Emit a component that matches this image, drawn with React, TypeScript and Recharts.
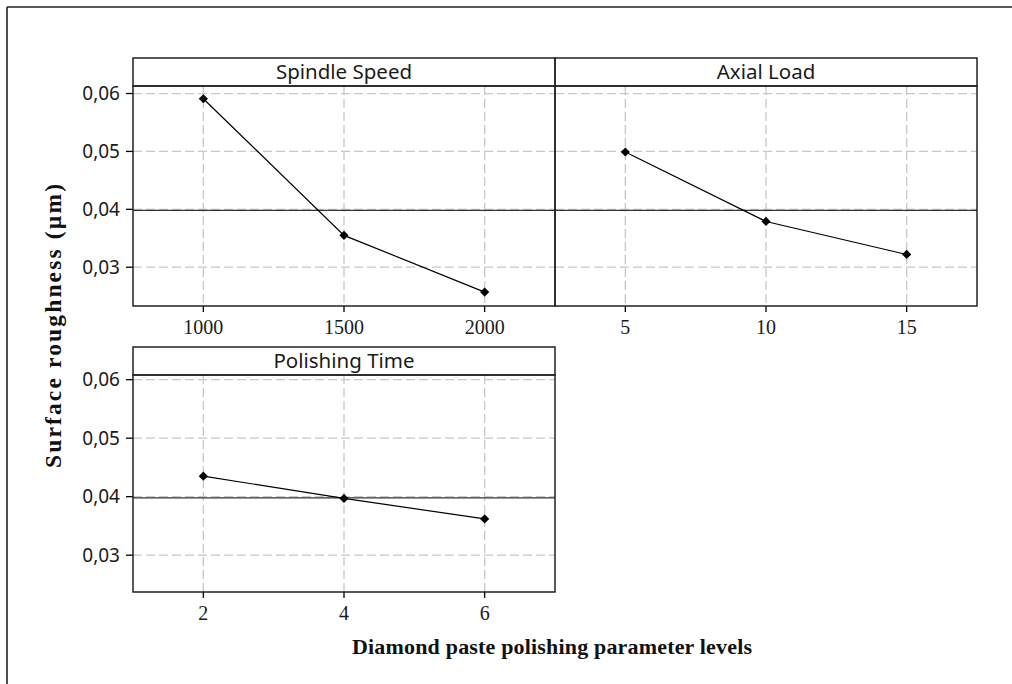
import React from 'react';
import { LineChart, Line, XAxis, YAxis, CartesianGrid, ReferenceLine } from 'recharts';

// ---- data ----
const spindleLevels = ['1000', '1500', '2000'];
const spindleMeans = [0.0591, 0.0355, 0.0257];
const axialLevels = ['5', '10', '15'];
const axialMeans = [0.0499, 0.0379, 0.0322];
const timeLevels = ['2', '4', '6'];
const timeMeans = [0.0435, 0.0397, 0.0362];
const yTicks = [0.03, 0.04, 0.05, 0.06];
const yTickLabels = ['0,03', '0,04', '0,05', '0,06'];
const grandMean = 0.0398;
const panelTitles = ['Spindle Speed', 'Axial Load', 'Polishing Time'];
const yAxisTitle = 'Surface roughness (µm)';
const xAxisTitle = 'Diamond paste polishing parameter levels';

const SANS = '"Noto Sans", "DejaVu Sans", sans-serif';
const SERIF = '"Liberation Serif", "DejaVu Serif", serif';
const INK = '#1a1a1a';

const YW = 80; // y-axis width
const MT = 10; // top margin
const XH = 44; // x-axis height
const HEADER = 28;

type PanelProps = {
  levels: string[];
  means: number[];
  showY: boolean;
  x: number;
  y: number;
  w: number;
  h: number;
  domain: [number, number];
};

const Diamond = (props: any) => {
  const { cx, cy } = props;
  if (cx == null || cy == null) return null;
  const r = 4.6;
  return (
    <path
      d={`M${cx},${cy - r} L${cx + r},${cy} L${cx},${cy + r} L${cx - r},${cy} Z`}
      fill="#000"
      stroke="none"
    />
  );
};

function Panel({ levels, means, showY, x, y, w, h, domain }: PanelProps) {
  const data = levels.map((l, i) => ({ i: i + 1, label: l, v: means[i] }));
  const xTicks = levels.map((_, i) => i + 1);
  const chartW = (showY ? YW : 0) + w;
  const chartH = MT + h + XH;
  return (
    <div style={{ position: 'absolute', left: x - (showY ? YW : 0), top: y - MT }}>
      <LineChart width={chartW} height={chartH} data={data} margin={{ top: MT, right: 0, bottom: 0, left: 0 }}>
        <CartesianGrid
          stroke="#c8c8c8"
          strokeWidth={1.3}
          strokeDasharray="9 4"
          horizontalValues={yTicks}
          verticalValues={xTicks}
        />
        <XAxis
          type="number"
          dataKey="i"
          domain={[0.5, levels.length + 0.5]}
          ticks={xTicks}
          interval={0}
          height={XH}
          axisLine={false}
          tickLine={{ stroke: '#000', strokeWidth: 1.3 }}
          tickSize={6}
          tickMargin={8}
          tickFormatter={(v: number) => levels[v - 1]}
          tick={{ fontFamily: SERIF, fontSize: 20, fill: INK }}
        />
        <YAxis
          type="number"
          domain={domain}
          ticks={yTicks}
          hide={!showY}
          width={YW}
          axisLine={false}
          tickLine={{ stroke: '#000', strokeWidth: 1.3 }}
          tickSize={7}
          tickMargin={6}
          interval={0}
          allowDataOverflow
          tickFormatter={(v: number) => yTickLabels[yTicks.indexOf(v)] ?? String(v)}
          tick={{ fontFamily: SANS, fontSize: 19, fill: INK }}
        />
        <ReferenceLine y={grandMean} stroke="#333" strokeWidth={1.3} ifOverflow="extendDomain" />
        <Line
          type="linear"
          dataKey="v"
          stroke="#000"
          strokeWidth={1.2}
          dot={<Diamond />}
          activeDot={false}
          isAnimationActive={false}
        />
      </LineChart>
    </div>
  );
}

const panels = [
  { levels: spindleLevels, means: spindleMeans, showY: true, x: 133, y: 86, w: 422, h: 220, domain: [0.0233, 0.0613] as [number, number] },
  { levels: axialLevels, means: axialMeans, showY: false, x: 555, y: 86, w: 422, h: 220, domain: [0.0233, 0.0613] as [number, number] },
  { levels: timeLevels, means: timeMeans, showY: true, x: 133, y: 375, w: 422, h: 217, domain: [0.0237, 0.0608] as [number, number] },
];

export default function App() {
  return (
    <div style={{ position: 'absolute', left: 0, top: 0, width: 1012, height: 684, background: '#fff', overflow: 'hidden' }}>
      {panels.map((p, k) => (
        <Panel key={k} {...p} />
      ))}
      <svg width={1012} height={684} style={{ position: 'absolute', left: 0, top: 0, pointerEvents: 'none' }}>
        <line x1={7} y1={7} x2={7} y2={684} stroke="#222" strokeWidth={1.6} />
        <line x1={7} y1={7} x2={1012} y2={7} stroke="#222" strokeWidth={1.6} />
        {panels.map((p, k) => (
          <g key={k}>
            <rect x={p.x} y={p.y - HEADER} width={p.w} height={HEADER} fill="none" stroke="#222" strokeWidth={1.5} />
            <rect x={p.x} y={p.y} width={p.w} height={p.h} fill="none" stroke="#222" strokeWidth={1.5} />
            <text
              x={p.x + p.w / 2}
              y={p.y - HEADER / 2 + 7.3}
              textAnchor="middle"
              fontFamily={SANS}
              fontSize={20.5}
              fill={INK}
            >
              {panelTitles[k]}
            </text>
          </g>
        ))}
        <text
          x={552}
          y={654}
          textAnchor="middle"
          fontFamily={SERIF}
          fontWeight="bold"
          fontSize={22}
          fill="#111"
          textLength={400}
          lengthAdjust="spacing"
        >
          {xAxisTitle}
        </text>
        <text
          x={0}
          y={0}
          transform="translate(61,326) rotate(-90)"
          textAnchor="middle"
          fontFamily={SERIF}
          fontWeight="bold"
          fontSize={23.5}
          fill="#111"
          textLength={284}
          lengthAdjust="spacing"
        >
          {yAxisTitle}
        </text>
      </svg>
    </div>
  );
}
